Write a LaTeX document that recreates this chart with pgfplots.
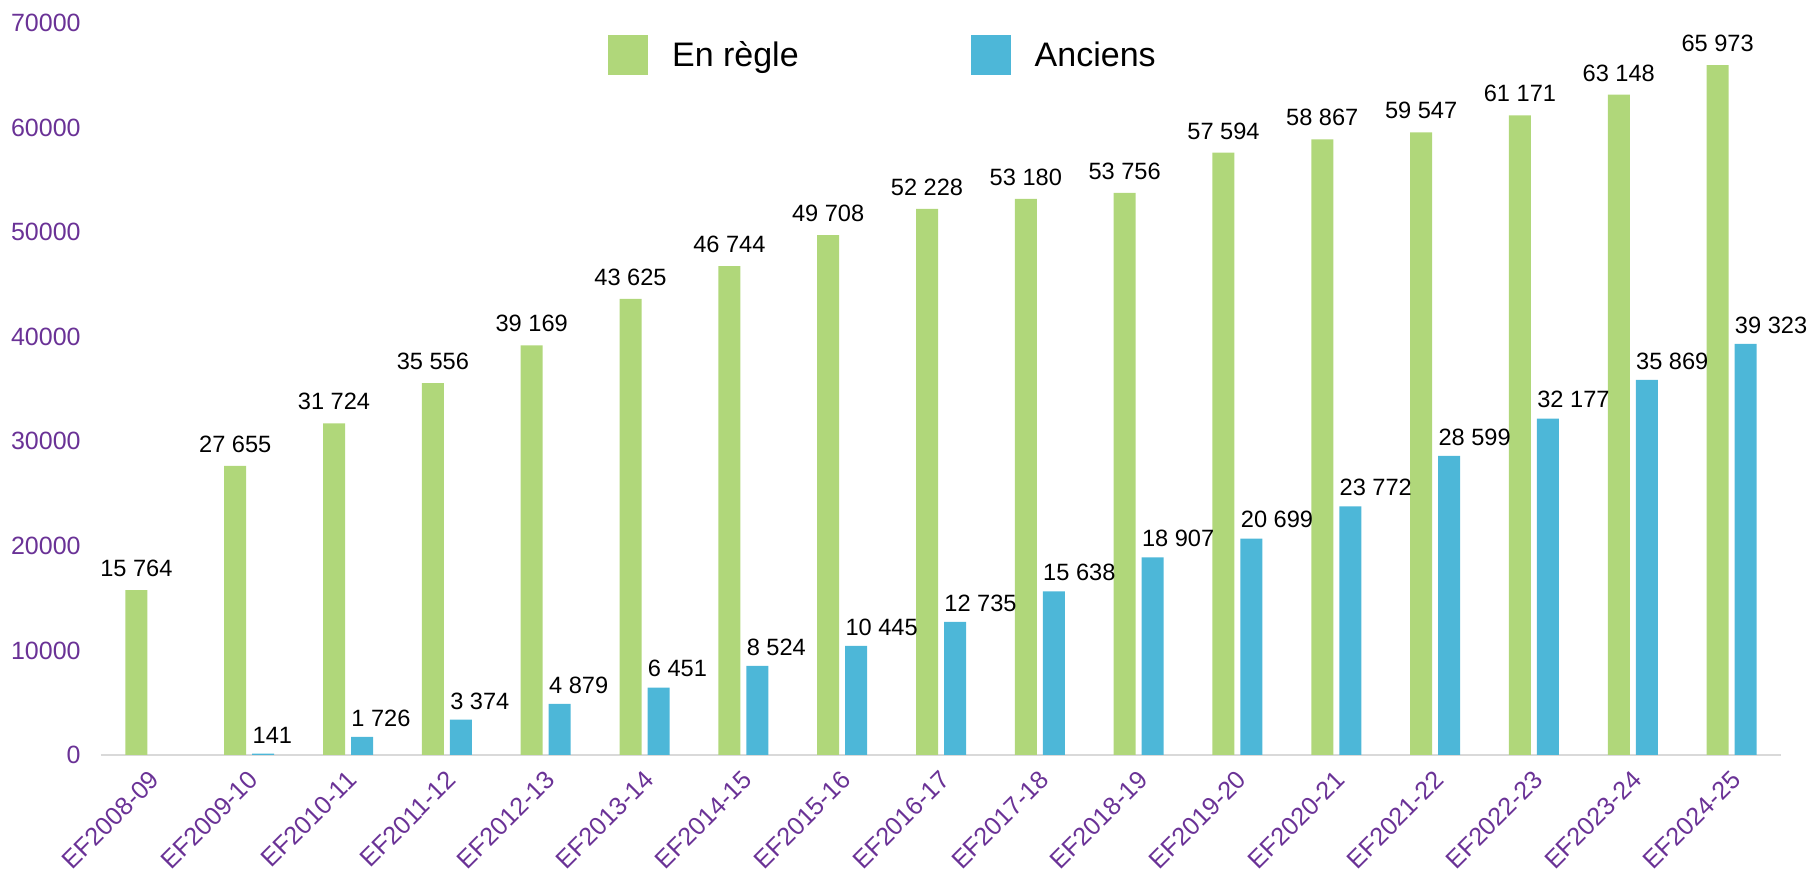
\documentclass[border=0pt]{standalone}
\usepackage{pgfplots}
\pgfplotsset{compat=1.18}
\usepackage{fontspec}
\setmainfont{Liberation Sans}
\definecolor{cgreen}{RGB}{176,215,122}
\definecolor{cblue}{RGB}{77,183,216}
\definecolor{cpurple}{RGB}{106,50,150}
\definecolor{caxis}{RGB}{217,217,217}
\begin{document}
\begin{tikzpicture}
\path[use as bounding box] (-50.5pt,-58.5pt) rectangle (857.5pt,377.5pt);
\begin{axis}[
  scale only axis,
  width=840pt, height=366pt,
  xmin=-0.5, xmax=16.5,
  ymin=0, ymax=70000,
  clip=false,
  ybar,
  bar width=11pt,
  axis lines*=left,
  x axis line style={draw=caxis, line width=1pt},
  y axis line style={draw=none},
  major tick length=0pt,
  xtick={0,...,16},
  xticklabels={EF2008-09,EF2009-10,EF2010-11,EF2011-12,EF2012-13,EF2013-14,EF2014-15,EF2015-16,EF2016-17,EF2017-18,EF2018-19,EF2019-20,EF2020-21,EF2021-22,EF2022-23,EF2023-24,EF2024-25},
  ytick={0,10000,...,70000},
  scaled y ticks=false,
  /pgf/number format/assume math mode=true,
  /pgf/number format/1000 sep={},
  yticklabel style={font=\fontsize{12.5}{14}\selectfont, text=cpurple, inner sep=0pt, xshift=-10pt},
  xticklabel style={font=\fontsize{12.6}{15}\selectfont, text=cpurple, inner sep=0pt, xshift=-1pt, yshift=-7pt, rotate=45, anchor=north east},
  legend style={at={(0.466,0.956)}, anchor=center, draw=none, fill=none,
    legend columns=2, font=\fontsize{17}{20}\selectfont,
    /tikz/every even column/.append style={column sep=84pt},
    /tikz/every odd column/.append style={column sep=10pt}},
  legend cell align=left,
  nodes near coords={\pgfmathprintnumber[1000 sep={\ }]{\pgfplotspointmeta}},
  every node near coord/.append style={font=\fontsize{11.8}{14}\selectfont, text=black, inner sep=0pt},
]
\addplot[fill=cgreen, draw=none, bar shift=-7pt,
  legend image code/.code={\fill[cgreen] (0pt,-10pt) rectangle (20pt,10pt);},
  every node near coord/.append style={anchor=south, yshift=6.5pt}]
coordinates {
(0,15764) (1,27655) (2,31724) (3,35556) (4,39169) (5,43625) (6,46744) (7,49708) (8,52228)
(9,53180) (10,53756) (11,57594) (12,58867) (13,59547) (14,61171) (15,63148) (16,65973)};
\addlegendentry{En règle}
\addplot[fill=cblue, draw=none, bar shift=7pt,
  legend image code/.code={\fill[cblue] (0pt,-10pt) rectangle (20pt,10pt);},
  every node near coord/.append style={anchor=south west, xshift=-5.5pt, yshift=5pt}]
coordinates {
(1,141) (2,1726) (3,3374) (4,4879) (5,6451) (6,8524) (7,10445) (8,12735)
(9,15638) (10,18907) (11,20699) (12,23772) (13,28599) (14,32177) (15,35869) (16,39323)};
\addlegendentry{Anciens}
\end{axis}
\end{tikzpicture}
\end{document}
